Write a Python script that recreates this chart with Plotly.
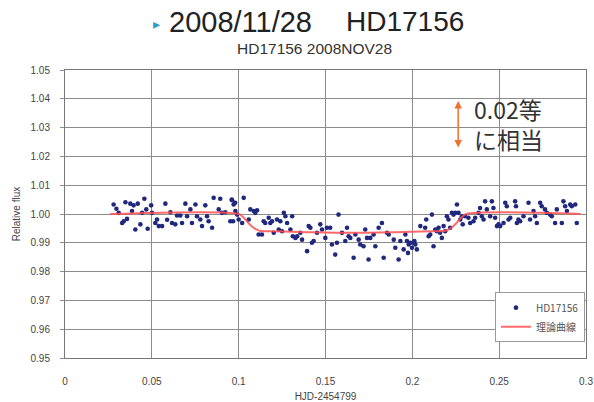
import plotly.graph_objects as go

# observed light-curve points (HJD-2454799, relative flux)
obs_x = [0.028, 0.0296, 0.0309, 0.0338, 0.0329, 0.0357, 0.0348, 0.0376, 0.0386, 0.0395,
         0.0405, 0.0419, 0.0434, 0.0444, 0.0457, 0.0468, 0.0476, 0.0496, 0.0501, 0.052,
         0.053, 0.054, 0.0559, 0.0578, 0.0588, 0.0607, 0.0616, 0.0635, 0.0645, 0.0664,
         0.0674, 0.0693, 0.0703, 0.0722, 0.0731, 0.0751, 0.076, 0.0779, 0.0789, 0.0808,
         0.0818, 0.0827, 0.0847, 0.0856, 0.0894, 0.0885, 0.0904, 0.0923, 0.0952, 0.0962,
         0.0971, 0.0981, 0.0991, 0.096, 0.098, 0.0968, 0.1029, 0.102, 0.100, 0.1058,
         0.1067, 0.1087, 0.1106, 0.1096, 0.1115, 0.1134, 0.1144, 0.1153, 0.1173, 0.1182,
         0.1192, 0.1202, 0.1221, 0.1231, 0.124, 0.125, 0.126, 0.1269, 0.1279, 0.1298,
         0.1308, 0.1312, 0.1327, 0.1337, 0.1355, 0.1365, 0.1394, 0.1403, 0.1413, 0.1422,
         0.1432, 0.1451, 0.147, 0.148, 0.1499, 0.1508, 0.1527, 0.1537, 0.1556, 0.1566,
         0.1575, 0.1595, 0.1614, 0.1624, 0.1633, 0.1643, 0.1662, 0.1672, 0.1691, 0.170,
         0.1719, 0.1729, 0.1739, 0.1748, 0.1758, 0.1777, 0.1787, 0.1806, 0.1825, 0.1835,
         0.1854, 0.1864, 0.1893, 0.1902, 0.1921, 0.1931, 0.195, 0.196, 0.1969, 0.1979,
         0.1988, 0.1998, 0.2007, 0.2017, 0.2026, 0.2012, 0.1975, 0.2046, 0.2074, 0.208,
         0.2094, 0.2103, 0.2113, 0.2122, 0.2132, 0.2141, 0.2151, 0.216, 0.217, 0.218,
         0.2189, 0.2199, 0.2208, 0.2218, 0.2228, 0.2237, 0.2247, 0.2257, 0.2266, 0.2276,
         0.2285, 0.2290, 0.2304, 0.2323, 0.2333, 0.2352, 0.2362, 0.2381, 0.239, 0.240,
         0.241, 0.2419, 0.2429, 0.2448, 0.2458, 0.2467, 0.2477, 0.2487, 0.2496, 0.2506,
         0.2525, 0.2535, 0.2544, 0.2554, 0.2564, 0.2592, 0.2597, 0.2602, 0.2611, 0.2621,
         0.264, 0.2669, 0.2678, 0.2698, 0.2707, 0.2717, 0.2736, 0.2745, 0.2764, 0.2774,
         0.2793, 0.2803, 0.2822, 0.2832, 0.2861, 0.287, 0.288, 0.289, 0.2909, 0.2918,
         0.2938, 0.2947]
obs_y = [1.0033, 1.0018, 1.0004, 0.9975, 0.9969, 0.9983, 1.0041, 1.0036, 1.0010, 1.0030,
         0.9946, 1.0036, 0.9964, 1.0004, 1.0053, 1.0016, 0.9949, 1.0030, 1.0004, 0.9969,
         0.9981, 0.9958, 0.9958, 1.0036, 0.9980, 1.0006, 0.9969, 0.9964, 0.9995, 0.9995,
         0.9969, 1.0036, 0.9992, 1.0016, 0.9969, 1.0033, 0.9992, 0.9981, 0.9958, 1.0030,
         0.9992, 0.9975, 0.9952, 1.0056, 1.0053, 1.0016, 1.0004, 1.0006, 0.9975, 1.0048,
         1.0033, 1.0010, 0.9998, 1.0050, 1.0039, 0.9975, 1.0056, 0.9969, 0.9981, 0.9981,
         1.0016, 1.0010, 1.0013, 1.0004, 0.9929, 0.9929, 0.9975, 0.9969, 0.9987, 0.9969,
         0.9975, 0.9935, 0.9981, 0.9946, 0.9975, 0.9940, 1.0004, 0.9992, 0.9969, 0.9946,
         0.9992, 0.9923, 0.9917, 0.9923, 0.9935, 0.9911, 0.9871, 0.9958, 0.9952, 0.9900,
         0.9906, 0.9935, 0.9964, 0.9946, 0.9917, 0.9952, 0.9952, 0.9894, 0.9859, 0.9900,
         0.9998, 0.9935, 0.9906, 0.9952, 0.9923, 0.9917, 0.9848, 0.9929, 0.9911, 0.9894,
         0.9888, 0.9946, 0.9917, 0.9842, 0.9917, 0.9929, 0.9888, 0.9952, 0.9969, 0.9848,
         0.9935, 0.9929, 0.9911, 0.9883, 0.9842, 0.9906, 0.9877, 0.9929, 0.9906, 0.9894,
         0.9900, 0.9883, 0.9900, 0.9894, 0.9877, 0.9906, 0.9865, 0.9958, 0.9952, 0.9981,
         0.9923, 0.9929, 0.9998, 0.9888, 0.9946, 0.9940, 0.9952, 0.9935, 0.9917, 0.9958,
         0.9940, 0.9992, 0.9981, 0.9952, 1.0004, 0.9998, 1.0004, 1.0033, 1.0004, 0.9981,
         0.9992, 0.9964, 0.9992, 0.9987, 0.9969, 0.9975, 0.9987, 1.0004, 1.0021, 0.9992,
         0.9981, 1.0044, 1.0016, 0.9992, 1.0044, 1.0021, 0.9987, 0.9958, 0.9964, 0.9958,
         0.9969, 1.0039, 1.0027, 0.9981, 0.9987, 1.0044, 1.0027, 0.9969, 0.9981, 0.9975,
         0.9992, 1.0039, 0.9981, 1.0010, 0.9992, 0.9969, 1.0039, 1.0027, 1.0016, 1.0004,
         0.9998, 0.9992, 0.9969, 1.0016, 0.9969, 1.0044, 1.0027, 1.0010, 1.0033, 1.0027,
         1.0033, 0.9969]

# theoretical transit curve
model_x = [0.026, 0.100, 0.102, 0.104, 0.106, 0.108, 0.110, 0.112, 0.120, 0.140,
           0.165, 0.190, 0.210, 0.219, 0.221, 0.223, 0.225, 0.227, 0.229, 0.231, 0.297]
model_y = [1.0, 1.0, 0.9992, 0.9980, 0.9966, 0.9955, 0.9947, 0.9942, 0.9940, 0.9937,
           0.9935, 0.9937, 0.9940, 0.9942, 0.9947, 0.9955, 0.9966, 0.9980, 0.9992, 1.0, 1.0]

x_ticks = [0, 0.05, 0.1, 0.15, 0.2, 0.25, 0.3]
x_tick_labels = ["0", "0.05", "0.1", "0.15", "0.2", "0.25", "0.3"]
y_ticks = [0.95, 0.96, 0.97, 0.98, 0.99, 1.00, 1.01, 1.02, 1.03, 1.04, 1.05]
y_tick_labels = ["0.95", "0.96", "0.97", "0.98", "0.99", "1.00", "1.01", "1.02", "1.03", "1.04", "1.05"]

FONT = "Liberation Sans, Arial, Noto Sans CJK JP, sans-serif"
JFONT = "Noto Sans CJK JP, Liberation Sans, sans-serif"

fig = go.Figure()
fig.add_trace(go.Scatter(x=obs_x, y=obs_y, mode="markers", name="HD17156",
                         marker=dict(color="#20287e", size=4.6)))
fig.add_trace(go.Scatter(x=model_x, y=model_y, mode="lines", name="理論曲線",
                         line=dict(color="rgba(255,80,80,0.85)", width=2, shape="spline")))

grid = "#8c8c8c"
fig.update_layout(
    width=594, height=402,
    margin=dict(l=65, r=8, t=70, b=44, autoexpand=False),
    paper_bgcolor="white", plot_bgcolor="white",
    font=dict(family=FONT, size=10, color="#444"),
    showlegend=True,
    legend=dict(x=0.998, y=0.055, xanchor="right", yanchor="bottom",
                bgcolor="white", bordercolor="#999", borderwidth=1,
                font=dict(family=JFONT, size=10, color="#555"),
                itemwidth=30, tracegroupgap=2),
    xaxis=dict(range=[0, 0.3], tickvals=x_ticks, ticktext=x_tick_labels,
               showgrid=True, gridcolor=grid, gridwidth=1, automargin=False,
               showline=True, linecolor="#777", mirror=True,
               ticks="", ticklabelstandoff=14, zeroline=False,
               title=dict(text="HJD-2454799", font=dict(size=10, color="#444"), standoff=6)),
    yaxis=dict(range=[0.95, 1.05], tickvals=y_ticks, ticktext=y_tick_labels,
               showgrid=True, gridcolor=grid, gridwidth=1, automargin=False,
               showline=True, linecolor="#777", mirror=True,
               ticks="outside", ticklen=4, tickcolor=grid, ticklabelstandoff=8,
               zeroline=False,
               title=dict(text="Relative flux", font=dict(size=10, color="#444"), standoff=8)),
)

# main title (two parts with a wide gap) and its bullet
fig.add_annotation(xref="paper", yref="paper", x=0.337, y=1.167, yanchor="middle",
                   text="2008/11/28", showarrow=False,
                   font=dict(family=FONT, size=29, color="#222"))
fig.add_annotation(xref="paper", yref="paper", x=0.653, y=1.167, yanchor="middle",
                   text="HD17156", showarrow=False,
                   font=dict(family=FONT, size=28, color="#222"))
fig.add_annotation(xref="paper", yref="paper", x=0.165, y=1.16, yanchor="middle",
                   text="\u25b8", showarrow=False,
                   font=dict(family=FONT, size=14, color="#2a9ec4"))
fig.add_annotation(xref="paper", yref="paper", x=0.479, y=1.076, yanchor="middle",
                   text="HD17156 2008NOV28", showarrow=False,
                   font=dict(family=FONT, size=15.5, color="#333"))

# double arrow and note
fig.add_annotation(x=0.2264, y=1.0231, ax=0.2264, ay=1.0398, xref="x", yref="y",
                   axref="x", ayref="y", text="", showarrow=True,
                   arrowhead=2, startarrowhead=2, arrowside="end+start",
                   arrowsize=1, arrowwidth=1.5, arrowcolor="#f07030")
fig.add_annotation(x=0.2345, y=1.0311, xref="x", yref="y", xanchor="left",
                   text="0.02等<br>に相当", showarrow=False, align="left",
                   font=dict(family=JFONT, size=23, color="#333"))

fig.write_html("out.html", config={"displayModeBar": False},
               post_script="document.body.style.margin='0';document.body.style.overflow='hidden';")
